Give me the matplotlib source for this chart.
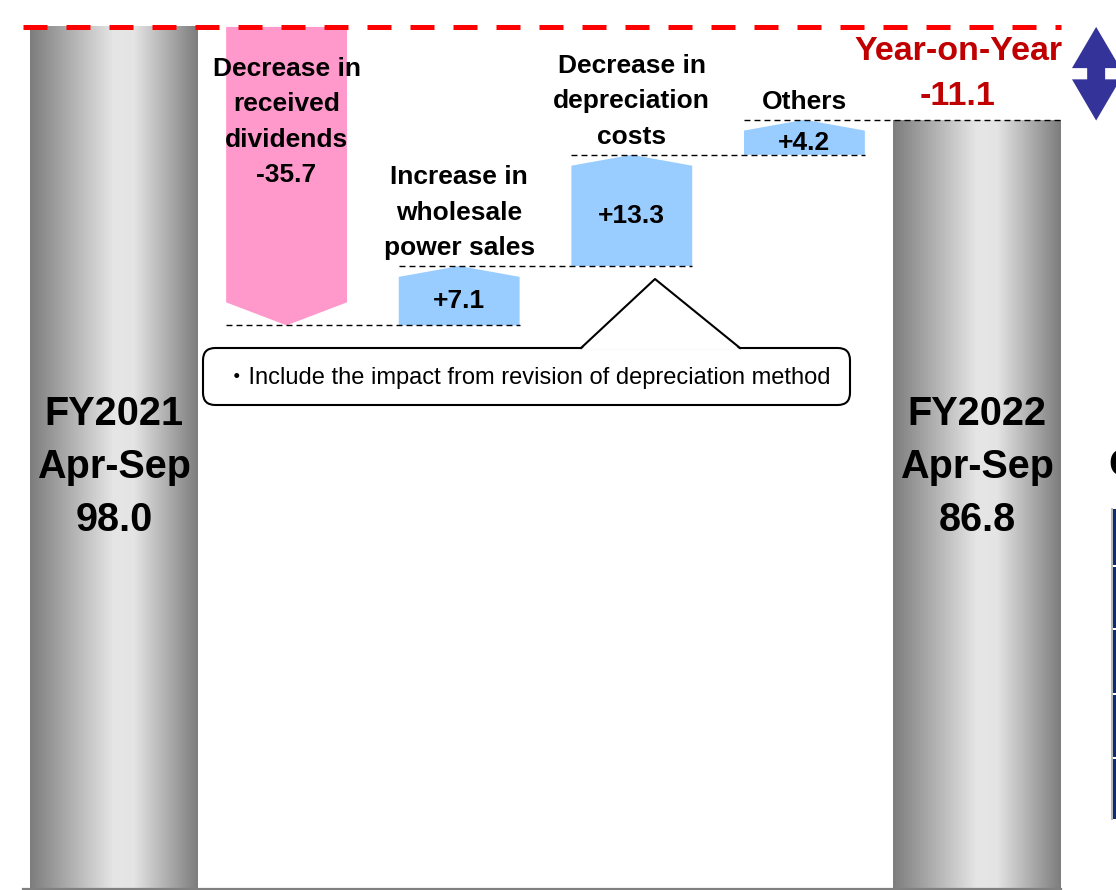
import matplotlib
matplotlib.use("Agg")
import matplotlib.pyplot as plt
import numpy as np
from matplotlib.colors import LinearSegmentedColormap
from matplotlib.lines import Line2D
from matplotlib.patches import FancyBboxPatch, Polygon, Rectangle

# ---------------------------------------------------------------------------
# Data
# ---------------------------------------------------------------------------
start_label = "FY2021\nApr-Sep"
end_label = "FY2022\nApr-Sep"
start_value = 98.0
end_value = 86.8
change_labels = [
    "Decrease in\nreceived\ndividends",
    "Increase in\nwholesale\npower sales",
    "Decrease in\ndepreciation\ncosts",
    "Others",
]
change_values = [-35.7, 7.1, 13.3, 4.2]
yoy_label = "Year-on-Year"
note_text = "\u30fbInclude the impact from revision of depreciation method"

# ---------------------------------------------------------------------------
# Layout / style
# ---------------------------------------------------------------------------
W, H = 1116, 890
XLIM = (-0.66, 5.805)
YLIM = (-5.245, 101.22)
BASE = -5.13                 # floor the total bars stand on
TOTAL_W = 0.97
STEP_W = 0.70
PINK = "#FF99CC"
BLUE = "#99CCFF"
RED = "#FF0000"
DARKRED = "#C00000"
ARROW_BLUE = "#333399"
GRAY = LinearSegmentedColormap.from_list(
    "cyl", [(0.0, "#7d7d7d"), (0.5, "#e6e6e6"), (0.62, "#e4e4e4"), (1.0, "#7d7d7d")]
)

plt.rcParams["font.family"] = ["Liberation Sans", "Noto Sans CJK JP", "DejaVu Sans"]


def px(x, y):
    """Pixel position (from top-left) -> figure fraction."""
    return x / W, 1 - y / H


def gray_bar(ax, x, top):
    x0, x1 = x - TOTAL_W / 2, x + TOTAL_W / 2
    grad = np.linspace(0, 1, 256)[None, :]
    ax.imshow(grad, cmap=GRAY, extent=(x0, x1, BASE, top), aspect="auto",
              interpolation="bilinear", zorder=2)


def arrow_bar(ax, x, y0, y1, color, head):
    s = np.sign(y1 - y0)
    sh = y1 - s * head
    w = STEP_W / 2
    pts = [(x - w, y0), (x + w, y0), (x + w, sh), (x, y1), (x - w, sh)]
    ax.add_patch(Polygon(pts, closed=True, facecolor=color, edgecolor="none", zorder=2))
    return sh


fig = plt.figure(figsize=(W / 100, H / 100), dpi=100)
ax = fig.add_axes([0, 0, 1, 1])
ax.set_axis_off()

n = len(change_values)
x_end = n + 1
levels = start_value + np.concatenate([[0.0], np.cumsum(change_values)])

# Totals
gray_bar(ax, 0, start_value)
gray_bar(ax, x_end, end_value)

# Steps
for i, v in enumerate(change_values):
    x = i + 1
    y0, y1 = levels[i], levels[i + 1]
    if v < 0:
        arrow_bar(ax, x, y0, y1, PINK, head=2.75)
        ax.annotate(f"{change_labels[i]}\n{v:+.1f}", xy=(x, y0), xytext=(0, -30),
                    textcoords="offset pixels", ha="center", va="top",
                    fontsize=19, fontweight="bold", linespacing=1.6, zorder=5)
    else:
        sh = arrow_bar(ax, x, y0, y1, BLUE, head=1.3)
        ax.text(x, (y0 + sh) / 2, f"{v:+.1f}", ha="center", va="center",
                fontsize=19, fontweight="bold", zorder=5)
        ax.annotate(change_labels[i], xy=(x, y1), xytext=(0, 6),
                    textcoords="offset pixels", ha="center", va="bottom",
                    fontsize=19, fontweight="bold", linespacing=1.6, zorder=5)

# Dashed connectors (from left edge of a step to right edge of next bar)
for i in range(1, n + 1):
    xa = i - STEP_W / 2
    wn = TOTAL_W if i + 1 == x_end else STEP_W
    xb = i + 1 + wn / 2
    ax.plot([xa, xb], [levels[i], levels[i]], color="black", lw=1.0,
            dashes=(4.3, 2.9), zorder=3)

# Red reference line at the starting level
ax.plot([-TOTAL_W / 2 - 0.04, x_end + TOTAL_W / 2], [start_value, start_value],
        color=RED, lw=3.6, dashes=(4.8, 3.8), zorder=4, dash_capstyle="butt")

# Baseline
ax.plot([-TOTAL_W / 2 - 0.04, x_end + TOTAL_W / 2], [BASE, BASE], color="#808080",
        lw=1.6, zorder=4)

# Total labels
xt = ax.get_xaxis_transform()
for x, lab, val in [(0, start_label, start_value), (x_end, end_label, end_value)]:
    ax.text(x, 0.475, f"{lab}\n{val:.1f}", transform=xt, ha="center", va="center",
            fontsize=28.5, fontweight="bold", linespacing=1.5, zorder=5)

# Year-on-year annotation
yoy = sum(change_values)
ax.text(x_end - 0.11, (start_value + end_value) / 2, f"{yoy_label}\n{yoy:+.1f}",
        ha="center", va="center", color=DARKRED, fontsize=24.5, fontweight="bold",
        linespacing=1.6, zorder=5)

# Double-headed arrow spanning the change
cx = x_end + 0.69
hw, sw = 0.14, 0.052
top, bot = start_value, end_value
hh = 0.44 * (top - bot)
arrow_pts = [
    (cx, top), (cx + hw, top - hh), (cx + sw, top - hh), (cx + sw, bot + hh),
    (cx + hw, bot + hh), (cx, bot), (cx - hw, bot + hh), (cx - sw, bot + hh),
    (cx - sw, top - hh), (cx - hw, top - hh),
]
ax.add_patch(Polygon(arrow_pts, closed=True, facecolor=ARROW_BLUE, edgecolor="none",
                     clip_on=False, zorder=5))

ax.set_xlim(*XLIM)
ax.set_ylim(*YLIM)

# ---------------------------------------------------------------------------
# Callout note
# ---------------------------------------------------------------------------
bx0, by0 = px(203, 405)
bx1, by1 = px(850, 348)
fig.patches.append(FancyBboxPatch(
    (bx0, by0), bx1 - bx0, by1 - by0, boxstyle="round,pad=0,rounding_size=0.011",
    transform=fig.transFigure, facecolor="white", edgecolor="black", lw=1.5,
    zorder=6, mutation_aspect=W / H))
tri = [px(581, 349.6), px(655, 280), px(740, 349.6)]
fig.patches.append(Polygon(tri, closed=True, transform=fig.transFigure,
                           facecolor="white", edgecolor="none", zorder=7))
tri_edge = [px(581, 348), px(655, 279), px(740, 348)]
fig.lines.append(Line2D([p[0] for p in tri_edge], [p[1] for p in tri_edge],
                        transform=fig.transFigure, color="black", lw=1.5, zorder=8))
fig.text(*px(528, 378), note_text, ha="center", va="center", fontsize=17, zorder=9)

# ---------------------------------------------------------------------------
# Clipped neighbour content at the right edge
# ---------------------------------------------------------------------------
fig.text(*px(1108, 466), "C", ha="left", va="center", fontsize=28,
         fontweight="bold")
rows = [508, 566, 629, 694, 758, 820]
for r0, r1 in zip(rows[:-1], rows[1:]):
    x0, y0 = px(1113, r1 - 1)
    fig.patches.append(Rectangle((x0, y0), 10 / W, (r1 - r0 - 2) / H,
                                 transform=fig.transFigure, facecolor="#0f2a6e",
                                 edgecolor="none"))
lx0, ly0 = px(1111, rows[-1])
fig.patches.append(Rectangle((lx0, ly0), 1.5 / W, (rows[-1] - rows[0]) / H,
                             transform=fig.transFigure, facecolor="#b8b8b8",
                             edgecolor="none"))

fig.savefig("out.png", dpi=100)
